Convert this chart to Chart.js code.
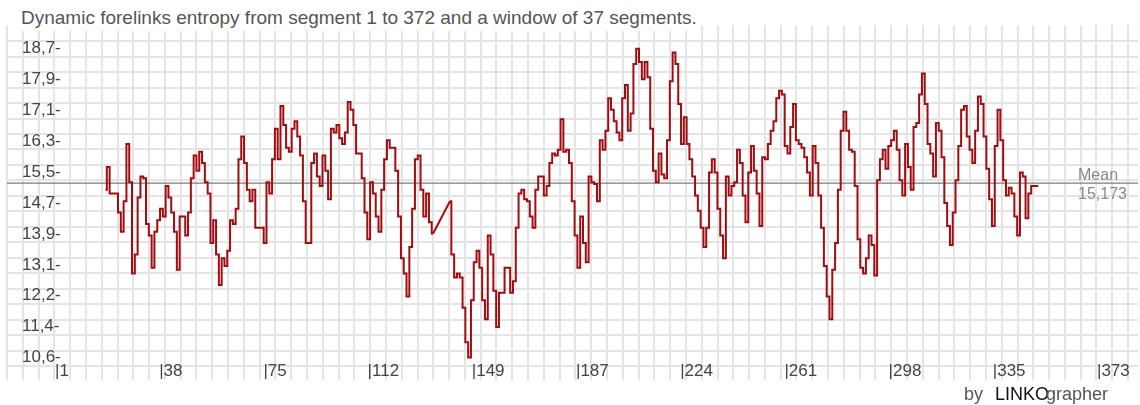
<!DOCTYPE html>
<html>
<head>
<meta charset="utf-8">
<title>Dynamic forelinks entropy</title>
<script src="https://cdn.jsdelivr.net/npm/chart.js@4.4.1/dist/chart.umd.min.js"></script>
<style>
  html, body { margin:0; padding:0; background:#fff; }
  .wrap { position:relative; width:1140px; height:405px; overflow:hidden; font-family:"Liberation Sans", Arial, sans-serif; }
  .wrap canvas { position:absolute; left:0; top:0; }
  .title { position:absolute; left:21px; top:0; height:31px; padding-top:7px; box-sizing:border-box; background:#fff;
           font-size:19px; line-height:22px; color:#555; white-space:nowrap; }
  .credit { position:absolute; top:384px; font-size:18px; line-height:20px; white-space:nowrap; }
</style>
</head>
<body>
<div class="wrap">
  <canvas id="chart" width="1140" height="405"></canvas>
  <div class="title" id="title"></div>
  <span class="credit" style="left:964px;color:#555">by</span>
  <span class="credit" style="left:995px;color:#111">LINKO</span>
  <span class="credit" style="left:1046px;color:#555">grapher</span>
</div>
<script>
var title = "Dynamic forelinks entropy from segment 1 to 372 and a window of 37 segments.";

// entropy of the 37-segment window, one value per segment from segment 19 on
var firstSegment = 19;
var entropy = [
  15.0, 15.6, 14.9, 14.9, 14.9, 14.4, 13.9, 14.7, 16.2, 15.2,      // 19
  12.8, 13.3, 14.8, 15.35, 15.3, 14.1, 13.8, 12.95, 13.9, 14.2,    // 29
  14.5, 14.3, 15.1, 14.8, 14.4, 13.9, 12.9, 14.3, 14.3, 13.8,      // 39
  14.4, 15.3, 15.9, 15.5, 16.0, 15.7, 15.2, 14.9, 13.6, 14.2,      // 49
  13.3, 12.5, 13.2, 13.0, 13.4, 14.2, 14.1, 14.5, 15.8, 16.4,      // 59
  15.7, 15.0, 14.7, 15.0, 14.0, 14.0, 14.0, 13.6, 15.2, 14.9,      // 69
  15.8, 16.6, 15.8, 17.2, 16.7, 16.1, 16.0, 16.6, 16.8, 16.4,      // 79
  15.9, 14.7, 13.6, 13.6, 15.7, 15.95, 15.35, 15.1, 15.9, 15.5,    // 89
  14.75, 16.6, 16.5, 16.7, 16.35, 16.2, 16.5, 17.3, 17.1, 16.7,    // 99
  15.95, 15.95, 15.3, 14.4, 13.7, 15.2, 14.9, 14.3, 13.9, 15.0,    // 109
  15.8, 16.3, 16.1, 16.1, 15.5, 14.3, 13.2, 12.8, 12.2, 13.5,      // 119
  14.5, 15.8, 15.9, 15.0, 14.3, 14.9, 14.15, 13.85, null, null,    // 129
  null, null, null, 14.7, 13.3, 12.7, 12.8, 12.7, 11.9, 11.0,      // 139
  10.6, 12.1, 13.1, 13.4, 12.95, 12.1, 11.6, 13.8, 13.3, 12.35,    // 149
  11.4, 12.3, 12.3, 12.95, 12.95, 12.3, 12.6, 14.0, 14.9, 15.0,    // 159
  14.75, 14.7, 14.3, 14.0, 15.0, 15.35, 15.35, 14.85, 15.1, 15.7,  // 169
  15.95, 15.9, 16.05, 16.85, 16.0, 16.05, 15.7, 14.7, 13.8, 12.95, // 179
  14.3, 13.6, 13.1, 15.35, 15.2, 15.15, 14.7, 16.3, 16.05, 16.55,  // 189
  17.4, 17.1, 16.8, 16.5, 16.3, 17.4, 17.75, 16.55, 17.0, 18.3,    // 199
  18.7, 18.35, 17.9, 18.35, 17.95, 16.6, 15.5, 15.2, 15.95, 15.4,  // 209
  15.3, 16.3, 17.85, 18.6, 18.3, 17.25, 16.2, 16.9, 16.2, 15.8,    // 219
  15.35, 14.85, 14.45, 14.0, 13.5, 14.0, 15.45, 15.8, 15.45, 14.5, // 229
  13.8, 13.2, 15.35, 14.85, 15.1, 15.2, 16.05, 15.7, 14.85, 14.15, // 239
  15.45, 16.15, 15.5, 14.9, 14.05, 15.85, 15.8, 16.2, 16.55, 16.8, // 249
  17.4, 17.6, 17.5, 16.15, 15.95, 16.65, 17.25, 16.3, 16.2, 16.1,  // 259
  15.85, 15.45, 14.85, 16.15, 15.7, 14.85, 14.0, 13.0, 12.2, 11.6, // 269
  12.9, 13.6, 15.0, 16.55, 17.05, 16.55, 16.05, 16.0, 15.1, 13.7,  // 279
  12.95, 12.8, 13.2, 13.8, 13.55, 12.75, 15.25, 15.8, 16.05, 15.55, // 289
  16.15, 16.3, 16.55, 16.05, 15.25, 14.85, 16.2, 15.6, 15.0, 16.65, // 299
  16.75, 17.5, 18.05, 17.25, 16.2, 15.95, 15.35, 16.75, 16.55, 15.85, // 309
  14.65, 14.05, 13.55, 14.4, 15.25, 16.15, 17.1, 17.2, 16.4, 16.05, // 319
  15.7, 16.55, 17.45, 17.25, 16.4, 15.55, 14.75, 14.05, 16.15, 17.1, // 329
  16.3, 15.25, 14.85, 15.05, 14.9, 14.3, 13.8, 15.45, 15.35, 14.25, // 339
  14.9, 15.1, 15.1, 15.1                                             // 349
];

var meanValue = 15.173;
var meanLabel = "15,173";

var yTickValues = [18.7, 17.89, 17.08, 16.27, 15.46, 14.65, 13.84, 13.03, 12.22, 11.41, 10.6];
var yTickLabels = ["18,7-", "17,9-", "17,1-", "16,3-", "15,5-", "14,7-", "13,9-", "13,1-", "12,2-", "11,4-", "10,6-"];
var xTickValues = [1, 38.2, 75.4, 112.6, 149.8, 187, 224.2, 261.4, 298.6, 335.8, 373];
var xTickLabels = ["|1", "|38", "|75", "|112", "|149", "|187", "|224", "|261", "|298", "|335", "|373"];

// scale ranges so segment 1 / 373 and 18,7 / 10,6 land where the original puts them
var X_MIN = -16.136, X_MAX = 387.64;
var Y_MIN = 10.012, Y_MAX = 19.319;
// background squares
var GX_MAX = 71.63, GY_MIN = -0.889, GY_MAX = 22.032;
var GRID = "#e4e4e4";
var FONT = "Liberation Sans";

document.getElementById("title").textContent = title;

function RangeTicks(from, to){
  var out = [];
  for (var k = from; k <= to; k++) out.push({value:k});
  return out;
}

function BuildPoints(){
  return entropy.map(function(v, i){ return {x:firstSegment + i, y:v}; });
}

// the original joins the two ends of a run of missing segments with a straight line
function BuildBridges(){
  var out = [];
  for (var i = 1; i < entropy.length; i++){
    if (entropy[i] === null && entropy[i-1] !== null){
      var j = i;
      while (j < entropy.length && entropy[j] === null) j++;
      if (j < entropy.length){
        if (out.length) out.push({x:firstSegment + i, y:null});
        out.push({x:firstSegment + i - 1, y:entropy[i-1]});
        out.push({x:firstSegment + j, y:entropy[j]});
      }
    }
  }
  return out;
}

var meanLabelPlugin = {
  id:"meanLabel",
  afterDatasetsDraw: function(chart){
    var ctx = chart.ctx;
    var y = chart.scales.y.getPixelForValue(meanValue);
    ctx.save();
    ctx.font = "16px '" + FONT + "'";
    ctx.fillStyle = "#8a8a8a";
    ctx.textBaseline = "middle";
    ctx.textAlign = "left";
    ctx.fillText("Mean", 1078, y - 8);
    ctx.fillText(meanLabel, 1078, y + 11);
    ctx.restore();
  }
};

function RenderChart(){
  var ctx = document.getElementById("chart");
  new Chart(ctx, {
    type:"line",
    data:{
      datasets:[
        {
          data:BuildPoints(),
          stepped:"middle",
          borderColor:"#a00c10",
          borderWidth:2,
          pointRadius:0,
          spanGaps:false,
          xAxisID:"x", yAxisID:"y",
          order:1
        },
        {
          data:BuildBridges(),
          borderColor:"#a00c10",
          borderWidth:2,
          pointRadius:0,
          xAxisID:"x", yAxisID:"y",
          order:1
        },
        {
          data:[{x:X_MIN, y:meanValue}, {x:X_MAX, y:meanValue}],
          borderColor:"#7d7d7d",
          borderWidth:1.3,
          pointRadius:0,
          xAxisID:"x", yAxisID:"y",
          order:2
        }
      ]
    },
    options:{
      responsive:false,
      animation:false,
      events:[],
      layout:{ padding:{left:7, right:2, top:23, bottom:21} },
      plugins:{ legend:{display:false}, tooltip:{enabled:false}, title:{display:false} },
      scales:{
        gx:{
          type:"linear", axis:"x", position:"bottom", min:0, max:GX_MAX,
          afterBuildTicks:function(s){ s.ticks = RangeTicks(0, 71); },
          afterFit:function(s){ s.height = 0; },
          ticks:{display:false},
          grid:{color:GRID, lineWidth:2, drawTicks:false},
          border:{display:false}
        },
        gy:{
          type:"linear", axis:"y", position:"left", min:GY_MIN, max:GY_MAX,
          afterBuildTicks:function(s){ s.ticks = RangeTicks(0, 21); },
          afterFit:function(s){ s.width = 0; },
          ticks:{display:false},
          grid:{color:GRID, lineWidth:2, drawTicks:false},
          border:{display:false}
        },
        x:{
          type:"linear", position:"bottom", min:X_MIN, max:X_MAX,
          afterBuildTicks:function(s){ s.ticks = xTickValues.map(function(v){ return {value:v}; }); },
          afterFit:function(s){ s.height = 0; },
          grid:{display:false, drawTicks:false},
          border:{display:false},
          ticks:{
            mirror:true, padding:-2, align:"start", autoSkip:false, maxRotation:0, minRotation:0,
            color:"#444", font:{family:FONT, size:17},
            callback:function(v, i){ return xTickLabels[i]; }
          }
        },
        y:{
          type:"linear", position:"left", min:Y_MIN, max:Y_MAX,
          afterBuildTicks:function(s){ s.ticks = yTickValues.map(function(v){ return {value:v}; }); },
          afterFit:function(s){ s.width = 0; },
          grid:{display:false, drawTicks:false},
          border:{display:false},
          ticks:{
            mirror:true, padding:15, autoSkip:false,
            color:"#444", font:{family:FONT, size:17},
            callback:function(v, i){ return yTickLabels[i]; }
          }
        }
      }
    },
    plugins:[meanLabelPlugin]
  });
}

RenderChart();
</script>
</body>
</html>
